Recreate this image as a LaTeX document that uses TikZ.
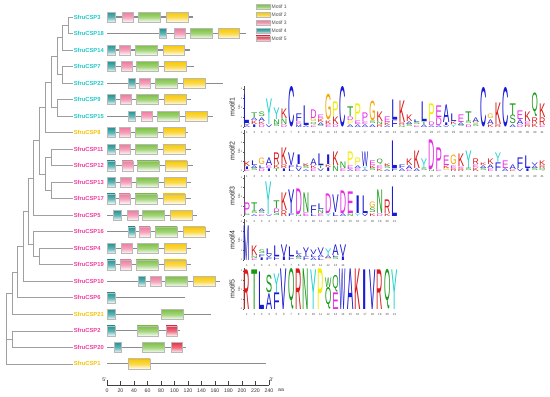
\documentclass[tikz,border=0pt]{standalone}
\usepackage{fontspec}
\setmainfont{Liberation Sans}
\usepackage{graphicx}
\definecolor{cyanL}{HTML}{22C8C8}
\definecolor{yelL}{HTML}{F5C400}
\definecolor{magL}{HTML}{F23C9E}
\definecolor{mA}{HTML}{7CC142}
\definecolor{mB}{HTML}{F8C800}
\definecolor{mC}{HTML}{F07A9E}
\definecolor{mD}{HTML}{1E9595}
\definecolor{mE}{HTML}{E8304A}
\definecolor{lb}{HTML}{1A1AD6}
\definecolor{lr}{HTML}{D81A1A}
\definecolor{lg}{HTML}{169A16}
\definecolor{lm}{HTML}{E62AE6}
\definecolor{lc}{HTML}{22D2D2}
\definecolor{lo}{HTML}{F5A300}
\definecolor{ly}{HTML}{F2EE00}
\definecolor{treegray}{HTML}{A0A0A0}
\definecolor{linegray}{HTML}{8C8C8C}
\definecolor{txtgray}{HTML}{505050}
\tikzset{
  lab/.style={font=\fontsize{5.8}{6}\selectfont\bfseries, anchor=west, inner sep=0.6pt},
  tree/.style={draw=treegray, line width=0.8pt},
  geneline/.style={draw=linegray, line width=1.1pt},
  lett/.style={anchor=south, inner sep=0pt, outer sep=0pt, font=\fontsize{10}{10}\selectfont},
  numf/.style={font=\fontsize{3}{3}\selectfont, text=txtgray, inner sep=0pt},
  tickf/.style={font=\fontsize{2.4}{2.4}\selectfont, text=txtgray, inner sep=0.2pt},
  bitsf/.style={font=\fontsize{3}{3}\selectfont, text=txtgray, inner sep=0pt},
  motf/.style={font=\fontsize{7}{7}\selectfont, text=black!85, inner sep=0pt},
  laxis/.style={draw=txtgray, line width=0.3pt},
  legf/.style={font=\fontsize{5}{5}\selectfont, text=txtgray, anchor=west, inner sep=0.5pt},
  scalef/.style={font=\fontsize{5.2}{5.2}\selectfont, text=black!80, inner sep=0pt},
}
\newcommand\mbx[4]{\shadedraw[top color=#1, bottom color=#1!5, middle color=#1!70, draw=gray!55, line width=0.3pt] (#2,#4-5) rectangle (#3,#4+5);}
\newcommand\gene[3]{\draw[geneline] (107,#1) -- (#2,#1);
  \foreach \cl/\xa/\xb in {#3} {\mbx{\cl}{\xa}{\xb}{#1}}}
\newcommand\mcol[3]{\pgfmathsetmacro\colx{247+(#1-1)*7.38}\xdef\cury{#2}%
  \foreach \ch/\cc/\hh in {#3}{\pgfmathsetmacro\hq{max(\hh-0.4,0.6)}%
  \node[lett,text=\cc] at (\colx,\cury) {\resizebox*{6.3pt}{\hq pt}{\ch}};%
  \pgfmathsetmacro\tmp{\cury-\hh}\xdef\cury{\tmp}}}
\newcommand\logoaxis[3]{\draw[laxis] (244,#1) -- (244,{#1-41});
  \foreach \k in {0,...,4} {\draw[laxis] (244,{#1-\k*9.5}) -- (242.9,{#1-\k*9.5});
    \node[tickf, anchor=east] at (242.6,{#1-\k*9.5}) {\k};}
  \node[bitsf, rotate=90] at (239,{#1-20}) {bits};
  \node[motf, rotate=90] at (232,{#1-20}) {#2};
  \foreach \i in {1,...,#3} {\node[numf] at ({247+(\i-1)*7.38},{#1+5}) {\i};}}
\begin{document}
\begin{tikzpicture}[x=1pt,y=-1pt]
\useasboundingbox (0,0) rectangle (550,397);
\fill[white] (0,0) rectangle (550,397);
% ---------------- leaf labels
\node[lab,text=cyanL] (l3)  at (73,17)    {SfruCSP3};
\node[lab,text=cyanL] (l18) at (73,33.5)  {SfruCSP18};
\node[lab,text=cyanL] (l14) at (73,50)    {SfruCSP14};
\node[lab,text=cyanL] (l7)  at (73,66.6)  {SfruCSP7};
\node[lab,text=cyanL] (l22) at (73,83.1)  {SfruCSP22};
\node[lab,text=cyanL] (l9)  at (73,99.6)  {SfruCSP9};
\node[lab,text=cyanL] (l15) at (73,116.1) {SfruCSP15};
\node[lab,text=yelL]  (l8)  at (73,132.6) {SfruCSP8};
\node[lab,text=magL]  (l11) at (73,149.2) {SfruCSP11};
\node[lab,text=magL]  (l12) at (73,165.7) {SfruCSP12};
\node[lab,text=magL]  (l13) at (73,182.2) {SfruCSP13};
\node[lab,text=magL]  (l17) at (73,198.7) {SfruCSP17};
\node[lab,text=magL]  (l5)  at (73,215.2) {SfruCSP5};
\node[lab,text=magL]  (l16) at (73,231.8) {SfruCSP16};
\node[lab,text=magL]  (l4)  at (73,248.3) {SfruCSP4};
\node[lab,text=magL]  (l19) at (73,264.8) {SfruCSP19};
\node[lab,text=magL]  (l10) at (73,281.3) {SfruCSP10};
\node[lab,text=magL]  (l6)  at (73,297.8) {SfruCSP6};
\node[lab,text=yelL]  (l21) at (73,314.4) {SfruCSP21};
\node[lab,text=magL]  (l2)  at (73,330.9) {SfruCSP2};
\node[lab,text=magL]  (l20) at (73,347.4) {SfruCSP20};
\node[lab,text=yelL]  (l1)  at (73,363.9) {SfruCSP1};
% ---------------- internal nodes
\coordinate (nA) at (68,25.25);
\coordinate (nB) at (62,37.6);
\coordinate (nC) at (62,74.85);
\coordinate (nD) at (57,56.2);
\coordinate (nE) at (57,107.85);
\coordinate (nF) at (51,82.0);
\coordinate (nG) at (45,107.3);
\coordinate (nH) at (51,157.45);
\coordinate (nI) at (51,190.45);
\coordinate (nJ) at (45,173.95);
\coordinate (nL) at (39,140.6);
\coordinate (nK) at (33,177.9);
\coordinate (nM) at (39,256.55);
\coordinate (nN) at (33,244.2);
\coordinate (nP) at (28,211.05);
\coordinate (nQ) at (23,246.2);
\coordinate (nR) at (17,272.0);
\coordinate (nS) at (12,293.2);
\coordinate (nT) at (12,339.15);
\coordinate (nRoot) at (6,328);
\draw[tree] (nA) |- (l3.west);  \draw[tree] (nA) |- (l18.west);
\draw[tree] (nB) |- (nA);       \draw[tree] (nB) |- (l14.west);
\draw[tree] (nC) |- (l7.west);  \draw[tree] (nC) |- (l22.west);
\draw[tree] (nD) |- (nB);       \draw[tree] (nD) |- (nC);
\draw[tree] (nE) |- (l9.west);  \draw[tree] (nE) |- (l15.west);
\draw[tree] (nF) |- (nD);       \draw[tree] (nF) |- (nE);
\draw[tree] (nG) |- (nF);       \draw[tree] (nG) |- (l8.west);
\draw[tree] (nH) |- (l11.west); \draw[tree] (nH) |- (l12.west);
\draw[tree] (nI) |- (l13.west); \draw[tree] (nI) |- (l17.west);
\draw[tree] (nJ) |- (nH);       \draw[tree] (nJ) |- (nI);
\draw[tree] (nL) |- (nG);       \draw[tree] (nL) |- (nJ);
\draw[tree] (nK) |- (nL);       \draw[tree] (nK) |- (l5.west);
\draw[tree] (nM) |- (l4.west);  \draw[tree] (nM) |- (l19.west);
\draw[tree] (nN) |- (l16.west); \draw[tree] (nN) |- (nM);
\draw[tree] (nP) |- (nK);       \draw[tree] (nP) |- (nN);
\draw[tree] (nQ) |- (nP);       \draw[tree] (nQ) |- (l10.west);
\draw[tree] (nR) |- (nQ);       \draw[tree] (nR) |- (l6.west);
\draw[tree] (nS) |- (nR);       \draw[tree] (nS) |- (l21.west);
\draw[tree] (nT) |- (l2.west);  \draw[tree] (nT) |- (l20.west);
\draw[tree] (nRoot) |- (nS);    \draw[tree] (nRoot) |- (nT); \draw[tree] (nRoot) |- (l1.west);
% ---------------- gene structures
\gene{17}{193}{mD/107/115, mC/122/133, mA/138/160, mB/166/188}
\gene{33.5}{246}{mD/159/166, mC/174/185, mA/190/212, mB/218/239}
\gene{50}{190}{mD/107/115, mC/119/130, mA/135/157, mB/163/184}
\gene{66.6}{194}{mD/107/115, mC/121/132, mA/136/158, mB/164/186}
\gene{83.1}{223}{mD/128/135, mC/139/150, mA/155/177, mB/183/205}
\gene{99.6}{191}{mD/107/115, mC/120/131, mA/136/158, mB/164/186}
\gene{116.1}{213}{mD/128/135, mC/141/152, mA/157/179, mB/185/207}
\gene{132.6}{188}{mD/107/115, mC/119/130, mA/135/157, mB/163/185}
\gene{149.2}{191}{mD/107/115, mC/119/130, mA/135/157, mB/163/185}
\gene{165.7}{193}{mD/107/115, mC/122/133, mA/137/159, mB/165/187}
\gene{182.2}{191}{mD/107/115, mC/120/131, mA/136/158, mB/164/186}
\gene{198.7}{191}{mD/107/115, mC/119/130, mA/135/157, mB/163/185}
\gene{215.2}{197}{mD/113/121, mC/127/138, mA/142/164, mB/170/192}
\gene{231.8}{210}{mD/128/135, mC/139/150, mA/155/177, mB/183/205}
\gene{248.3}{191}{mD/107/115, mC/121/132, mA/137/158, mB/164/186}
\gene{264.8}{191}{mD/107/115, mC/120/131, mA/136/158, mB/164/186}
\gene{281.3}{220}{mD/138/145, mC/150/161, mA/165/187, mB/193/215}
\gene{297.8}{185}{mD/107/115}
\gene{314.4}{211}{mD/107/115, mA/161/183}
\gene{330.9}{180}{mD/107/115, mA/137/158, mE/166/177}
\gene{347.4}{186}{mD/114/121, mA/142/164, mE/171/182}
\gene{363.9}{266}{mB/128/150}
% ---------------- scale
\draw[draw=black!75, line width=0.5pt] (107,385) -- (269,385);
\foreach \a in {0,20,...,240} {
  \draw[draw=black!75, line width=0.4pt] ({107+\a*0.675},385) -- ({107+\a*0.675},381);
  \node[scalef] at ({107+\a*0.675},390.5) {\a};}
\draw[draw=black!75, line width=0.4pt] (107,385) -- (107,379.5);
\draw[draw=black!75, line width=0.4pt] (269,385) -- (269,379.5);
\node[scalef] (p5) at (104.5,379.5) {5'};
\node[scalef] (p3) at (271.5,379.5) {3'};
\node[scalef] (aa) at (281,390.5) {aa};
% ---------------- legend
\foreach \c/\t/\yy in {mA/Motif 1/7, mB/Motif 2/15, mC/Motif 3/23, mD/Motif 4/31, mE/Motif 5/38.5} {
  \shadedraw[top color=\c, bottom color=\c!5, middle color=\c!70, draw=gray!55, line width=0.3pt] (256,\yy-2.6) rectangle (270,\yy+2.6);
  \node[legf] at (271,\yy) {\t};}
% ---------------- logos: axes
\logoaxis{127}{motif1}{41}
\logoaxis{171}{motif2}{41}
\logoaxis{216}{motif3}{21}
\logoaxis{260}{motif4}{14}
\logoaxis{309}{motif5}{21}
% ---------------- motif1
\mcol{1}{127}{A/lb/2, V/lb/2, L/lb/29}
\mcol{2}{127}{I/lb/3, K/lr/4, A/lb/3, T/lg/5}
\mcol{3}{127}{D/lm/3, K/lr/3, A/lb/4, S/lg/5}
\mcol{4}{127}{V/lb/3, Y/lc/26}
\mcol{5}{127}{S/lg/3, N/lg/5, Y/lc/12}
\mcol{6}{127}{D/lm/3, N/lg/6, K/lr/10}
\mcol{7}{127}{C/lb/41}
\mcol{8}{127}{M/lb/3, E/lm/3, F/lb/8}
\mcol{9}{127}{A/lb/2, L/lb/20}
\mcol{10}{127}{E/lm/2, Q/lg/3, G/lo/4, D/lm/9}
\mcol{11}{127}{S/lg/2, A/lb/3, K/lr/4, E/lm/4}
\mcol{12}{127}{E/lm/3, K/lr/4, G/lo/26}
\mcol{13}{127}{D/lm/3, K/lr/8, P/ly/15}
\mcol{14}{127}{C/lb/41}
\mcol{15}{127}{A/lb/3, P/ly/4, D/lm/4, T/lg/10}
\mcol{16}{127}{A/lb/3, E/lm/4, P/ly/17}
\mcol{17}{127}{A/lb/3, E/lm/3, P/lm/9}
\mcol{18}{127}{A/lb/3, S/lg/3, G/lo/20}
\mcol{19}{127}{R/lr/3, N/lg/3, K/lr/10}
\mcol{20}{127}{A/lb/2, K/lr/3, E/lm/6}
\mcol{21}{127}{F/lb/8, L/lb/20}
\mcol{22}{127}{N/lg/2, R/lr/3, K/lr/22}
\mcol{23}{127}{S/lg/3, A/lb/3, K/lr/7}
\mcol{24}{127}{E/lm/2, S/lg/3, L/lb/3}
\mcol{25}{127}{A/lb/3, T/lg/3, L/lb/20}
\mcol{26}{127}{A/lb/2, D/lm/4, P/ly/18}
\mcol{27}{127}{A/lb/2, D/lm/8, E/lm/12}
\mcol{28}{127}{V/lb/2, I/lb/3, A/lb/18}
\mcol{29}{127}{Y/lc/3, K/lr/3, L/lb/8}
\mcol{30}{127}{S/lg/2, A/lb/3, E/lm/8}
\mcol{31}{127}{D/lm/3, S/lg/3, T/lg/10}
\mcol{32}{127}{S/lg/3, G/lo/2, A/lb/5}
\mcol{33}{127}{C/lb/40}
\mcol{34}{127}{K/lr/3, A/lb/5, G/lo/5}
\mcol{35}{127}{R/lr/3, K/lr/22}
\mcol{36}{127}{C/lb/40}
\mcol{37}{127}{A/lb/3, S/lg/9, T/lg/12}
\mcol{38}{127}{D/lm/3, A/lb/5, E/lm/9}
\mcol{39}{127}{R/lr/3, E/lm/3, K/lr/10}
\mcol{40}{127}{K/lr/4, R/lr/6, Q/lg/24}
\mcol{41}{127}{E/lm/2, R/lr/8, K/lr/14}
% ---------------- motif2
\mcol{1}{171}{E/lm/2, I/lb/3, K/lr/5}
\mcol{2}{171}{S/lg/3, A/lb/3, L/lb/5}
\mcol{3}{171}{D/lm/3, L/lb/3, G/lo/7}
\mcol{4}{171}{I/lb/3, E/lm/3, A/lb/8}
\mcol{5}{171}{T/lg/3, K/lr/4, R/lr/12}
\mcol{6}{171}{I/lb/3, R/lr/4, K/lr/17}
\mcol{7}{171}{L/lb/3, F/lb/3, V/lb/13}
\mcol{8}{171}{V/lb/4, L/lb/3, I/lb/10}
\mcol{9}{171}{A/lb/2, S/lg/3, K/lr/3}
\mcol{10}{171}{E/lm/3, K/lr/3, A/lb/7}
\mcol{11}{171}{V/lb/3, T/lg/3, L/lb/12}
\mcol{12}{171}{I/lb/4, K/lr/3, I/lb/10}
\mcol{13}{171}{N/lg/6, K/lr/14}
\mcol{14}{171}{E/lm/3, N/lg/7}
\mcol{15}{171}{A/lb/2, E/lm/4, P/ly/14}
\mcol{16}{171}{E/lm/3, A/lb/3, P/ly/8}
\mcol{17}{171}{A/lb/2, Y/lc/3, W/lb/15}
\mcol{18}{171}{S/lg/3, K/lr/3, E/lm/5}
\mcol{19}{171}{K/lr/3, E/lm/3, Q/lg/6}
\mcol{20}{171}{A/lb/2, S/lg/3, K/lr/3}
\mcol{21}{171}{F/lb/3, L/lb/28}
\mcol{22}{171}{A/lb/3, F/lb/4}
\mcol{23}{171}{E/lm/2, A/lb/4, K/lr/7}
\mcol{24}{171}{A/lb/3, K/lr/18}
\mcol{25}{171}{S/lg/3, Y/lc/10}
\mcol{26}{171}{N/lg/2, D/lm/30}
\mcol{27}{171}{E/lm/2, P/lm/22}
\mcol{28}{171}{G/lo/3, K/lr/3, E/lm/10}
\mcol{29}{171}{R/lr/3, E/lm/3, G/lo/10}
\mcol{30}{171}{R/lr/3, E/lm/2, K/lr/13}
\mcol{31}{171}{S/lg/3, Y/lc/18}
\mcol{32}{171}{K/lr/4, E/lm/3, R/lr/6}
\mcol{33}{171}{S/lg/3, A/lb/3, K/lr/3}
\mcol{34}{171}{E/lm/3, A/lb/4, K/lr/6}
\mcol{35}{171}{F/lb/9, Y/lc/10}
\mcol{36}{171}{A/lb/3, E/lm/8}
\mcol{37}{171}{K/lr/2, A/lb/5}
\mcol{38}{171}{V/lb/3, F/lb/11}
\mcol{39}{171}{I/lb/3, L/lb/13}
\mcol{40}{171}{S/lg/3, A/lb/3, V/lb/3}
\mcol{41}{171}{Q/lg/3, R/lr/3, K/lr/5}
% ---------------- motif3
\mcol{1}{216}{S/lg/2, P/lm/12}
\mcol{2}{216}{A/lb/2, S/lg/3, T/lg/9}
\mcol{3}{216}{E/lm/2, S/lg/3, A/lb/3}
\mcol{4}{216}{V/lb/2, Y/lc/33}
\mcol{5}{216}{S/lg/4, D/lm/4, T/lg/8}
\mcol{6}{216}{R/lr/6, K/lr/18}
\mcol{7}{216}{F/lb/3, Y/lb/24}
\mcol{8}{216}{N/lg/2, D/lm/26}
\mcol{9}{216}{E/lm/4, N/lg/20}
\mcol{10}{216}{L/lb/3, F/lb/8}
\mcol{11}{216}{E/lm/3, N/lg/4, L/lb/6}
\mcol{12}{216}{Y/lc/3, D/lm/20}
\mcol{13}{216}{L/lb/4, V/lb/18}
\mcol{14}{216}{A/lb/3, D/lm/23}
\mcol{15}{216}{N/lg/3, E/lm/22}
\mcol{16}{216}{Y/lc/3, I/lb/18}
\mcol{17}{216}{V/lb/3, L/lb/18}
\mcol{18}{216}{K/lr/3, S/lg/5, G/lo/6}
\mcol{19}{216}{D/lm/3, N/lg/24}
\mcol{20}{216}{K/lr/3, R/lr/14}
\mcol{21}{216}{L/lb/30}
% ---------------- motif4
\mcol{1}{260}{M/lb/35}
\mcol{2}{260}{E/lm/2, N/lg/3, K/lr/10}
\mcol{3}{260}{I/lb/3, F/lb/3, S/lg/4}
\mcol{4}{260}{F/lb/3, V/lb/3, L/lb/6}
\mcol{5}{260}{F/lb/4, L/lb/11}
\mcol{6}{260}{I/lb/4, V/lb/12}
\mcol{7}{260}{F/lb/4, L/lb/10}
\mcol{8}{260}{S/lg/3, A/lb/3, L/lb/4}
\mcol{9}{260}{F/lb/4, Y/lb/9}
\mcol{10}{260}{A/lb/3, L/lb/3, V/lb/5}
\mcol{11}{260}{L/lb/3, A/lb/3, V/lb/7}
\mcol{12}{260}{G/lo/2, A/lb/3, Y/lc/7}
\mcol{13}{260}{S/lg/3, L/lb/2, A/lb/11}
\mcol{14}{260}{I/lb/4, V/lb/12}
% ---------------- motif5
\mcol{1}{309}{R/lr/40}
\mcol{2}{309}{T/lg/40}
\mcol{3}{309}{L/lb/38}
\mcol{4}{309}{A/lb/16, S/lg/18}
\mcol{5}{309}{F/lb/17, Y/lc/19}
\mcol{6}{309}{V/lb/41}
\mcol{7}{309}{Q/lg/41}
\mcol{8}{309}{R/lr/41}
\mcol{9}{309}{N/lg/41}
\mcol{10}{309}{Y/lc/40}
\mcol{11}{309}{P/ly/41}
\mcol{12}{309}{Q/lg/22, W/lg/10}
\mcol{13}{309}{E/lm/17, Q/lg/17}
\mcol{14}{309}{W/lb/41}
\mcol{15}{309}{A/lb/41}
\mcol{16}{309}{K/lr/41}
\mcol{17}{309}{I/lb/40}
\mcol{18}{309}{V/lb/40}
\mcol{19}{309}{R/lr/40}
\mcol{20}{309}{Q/lg/40}
\mcol{21}{309}{Y/lc/40}
\end{tikzpicture}
\end{document}
